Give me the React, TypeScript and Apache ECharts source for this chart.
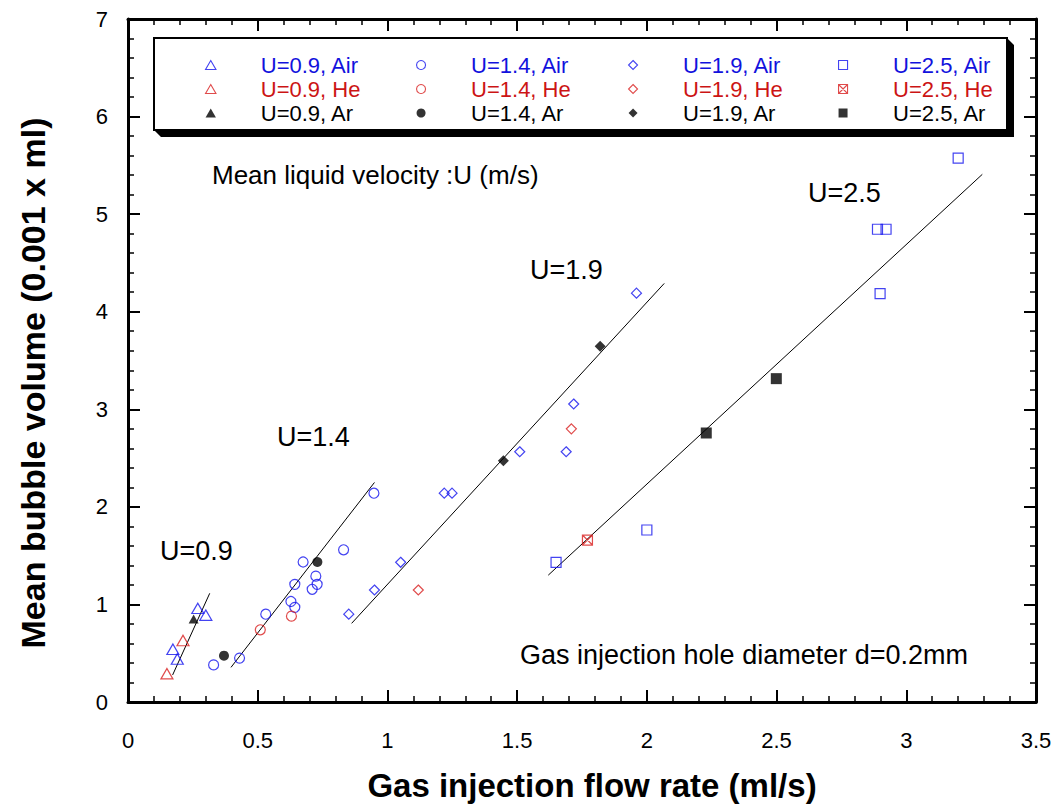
import React, { useEffect, useRef } from "react";
import * as echarts from "echarts";

// ---------- data ----------
const xTickValues = [0, 0.5, 1, 1.5, 2, 2.5, 3, 3.5];
const yTickValues = [0, 1, 2, 3, 4, 5, 6, 7];

const air09 = [[0.173, 0.54], [0.19, 0.44], [0.269, 0.96], [0.3, 0.89]];
const he09 = [[0.15, 0.29], [0.212, 0.63]];
const ar09 = [[0.253, 0.85]];

const air14 = [[0.33, 0.38], [0.43, 0.45], [0.531, 0.9], [0.628, 1.03], [0.643, 0.97], [0.643, 1.206], [0.675, 1.435], [0.71, 1.155], [0.724, 1.29], [0.729, 1.206], [0.831, 1.56], [0.948, 2.14]];
const he14 = [[0.51, 0.74], [0.63, 0.88]];
const ar14 = [[0.37, 0.475], [0.73, 1.435]];

const air19 = [[0.851, 0.9], [0.95, 1.148], [1.051, 1.432], [1.219, 2.14], [1.249, 2.14], [1.51, 2.565], [1.689, 2.565], [1.718, 3.054], [1.96, 4.19]];
const he19 = [[1.119, 1.148], [1.709, 2.8]];
const ar19 = [[1.447, 2.473], [1.82, 3.645]];

const air25 = [[1.65, 1.432], [2.0, 1.763], [2.899, 4.185], [2.889, 4.845], [2.922, 4.845], [3.2, 5.575]];
const he25 = [[1.771, 1.66]];
const ar25 = [[2.229, 2.757], [2.499, 3.314]];

const fit09 = [[0.172, 0.277], [0.315, 1.114]];
const fit14 = [[0.397, 0.355], [0.95, 2.25]];
const fit19 = [[0.862, 0.806], [2.067, 4.29]];
const fit25 = [[1.62, 1.3], [3.293, 5.408]];

const velocities = ["0.9", "1.4", "1.9", "2.5"];
const gases = ["Air", "He", "Ar"];

const xTitle = "Gas injection flow rate (ml/s)";
const yTitle = "Mean bubble volume (0.001 x ml)";
const noteVelocity = "Mean liquid velocity :U (m/s)";
const noteHole = "Gas injection hole diameter d=0.2mm";
const lineLabels = ["U=0.9", "U=1.4", "U=1.9", "U=2.5"];

// ---------- styles ----------
const BLUE = "#1414ee";
const RED = "#d81e1e";
const BLACK = "#000000";
const TEXT_BLUE = "#1212dd";
const TEXT_RED = "#cc1414";
const FONT = "'Liberation Sans', Arial, Helvetica, sans-serif";

const TRI = "path://M6,0L12,10.4L0,10.4Z";
const DIA = "path://M5,0L10,5L5,10L0,5Z";
const SQ = "path://M0,0L10,0L10,10L0,10Z";
const SQX = "path://M0,0L10,0L10,10L0,10ZM0,0L10,10M10,0L0,10";

function scatter(name: string, data: number[][], symbol: string, size: number[], color: string, filled: boolean) {
  return {
    type: "scatter",
    name,
    data,
    symbol,
    symbolSize: size,
    itemStyle: filled
      ? { color, borderColor: color, borderWidth: 0 }
      : { color: "rgba(0,0,0,0)", borderColor: color, borderWidth: 1.2 },
    emphasis: { disabled: true },
    z: 3,
  };
}

function fitLine(data: number[][]) {
  return {
    type: "line",
    data,
    symbol: "none",
    lineStyle: { color: BLACK, width: 1 },
    silent: true,
    z: 2,
  };
}

function legendItem(name: string, icon: string, color: string, filled: boolean, textColor: string) {
  return {
    name,
    icon,
    itemStyle: filled
      ? { color, borderColor: color, borderWidth: 0 }
      : { color: "rgba(0,0,0,0)", borderColor: color, borderWidth: 1.1 },
    textStyle: { color: textColor },
  };
}

const icons = [TRI, "circle", DIA, SQ];
const heIcons = [TRI, "circle", DIA, SQX];
const markerSizes = [[12, 10.4], [10, 10], [10, 10], [10, 10]];
const arSizes = [[10, 9], [10, 10], [11, 11], [11, 11]];

function nm(v: string, g: string) {
  return `U=${v}, ${g}`;
}

const series: any[] = [
  scatter(nm("0.9", "Air"), air09, TRI, markerSizes[0], BLUE, false),
  scatter(nm("0.9", "He"), he09, TRI, markerSizes[0], RED, false),
  scatter(nm("0.9", "Ar"), ar09, TRI, arSizes[0], BLACK, true),
  scatter(nm("1.4", "Air"), air14, "circle", markerSizes[1], BLUE, false),
  scatter(nm("1.4", "He"), he14, "circle", markerSizes[1], RED, false),
  scatter(nm("1.4", "Ar"), ar14, "circle", arSizes[1], BLACK, true),
  scatter(nm("1.9", "Air"), air19, DIA, markerSizes[2], BLUE, false),
  scatter(nm("1.9", "He"), he19, DIA, markerSizes[2], RED, false),
  scatter(nm("1.9", "Ar"), ar19, DIA, arSizes[2], BLACK, true),
  scatter(nm("2.5", "Air"), air25, SQ, markerSizes[3], BLUE, false),
  scatter(nm("2.5", "He"), he25, SQX, markerSizes[3], RED, false),
  scatter(nm("2.5", "Ar"), ar25, SQ, arSizes[3], BLACK, true),
  fitLine(fit09),
  fitLine(fit14),
  fitLine(fit19),
  fitLine(fit25),
];

const legendMarkerX = [210, 421, 633, 843];

const legends = velocities.map((v, i) => ({
  orient: "vertical",
  left: legendMarkerX[i] - 5,
  top: 54,
  itemWidth: 90,
  itemHeight: 9,
  itemGap: 2,
  padding: 0,
  selectedMode: false,
  z: 10,
  textStyle: { fontSize: 22, lineHeight: 21, fontFamily: FONT },
  data: [
    legendItem(nm(v, gases[0]), icons[i], BLUE, false, TEXT_BLUE),
    legendItem(nm(v, gases[1]), heIcons[i], RED, false, TEXT_RED),
    legendItem(nm(v, gases[2]), icons[i], BLACK, true, BLACK),
  ],
}));

const GRID = { left: 128, top: 19, width: 908, height: 683 };

const frameAxisCommon = {
  axisLine: { show: true, onZero: false, lineStyle: { color: BLACK, width: 3 } },
  axisTick: { show: true, inside: true, length: 12, lineStyle: { color: BLACK, width: 2 } },
  minorTick: { show: true, splitNumber: 5, length: 6, lineStyle: { color: BLACK, width: 1.5 } },
  splitLine: { show: false },
};

const labelPos = [
  [160, 551],
  [277, 437],
  [530, 270],
  [808, 193],
];

function note(text: string, x: number, y: number, size: number) {
  return {
    type: "text",
    z: 6,
    x,
    y,
    style: { text, fontSize: size, fontFamily: FONT, fill: BLACK, verticalAlign: "middle", align: "left" },
  };
}

const option: any = {
  animation: false,
  backgroundColor: "#ffffff",
  grid: { ...GRID, containLabel: false },
  xAxis: [
    {
      type: "value",
      min: xTickValues[0],
      max: xTickValues[xTickValues.length - 1],
      interval: 0.5,
      position: "bottom",
      ...frameAxisCommon,
      axisLabel: { show: true, margin: 27, fontSize: 22, fontFamily: FONT, color: BLACK },
    },
    {
      type: "value",
      min: xTickValues[0],
      max: xTickValues[xTickValues.length - 1],
      interval: 0.5,
      position: "top",
      ...frameAxisCommon,
      axisLabel: { show: false },
    },
  ],
  yAxis: [
    {
      type: "value",
      min: yTickValues[0],
      max: yTickValues[yTickValues.length - 1],
      interval: 1,
      position: "left",
      ...frameAxisCommon,
      axisLabel: { show: true, margin: 20, fontSize: 22, fontFamily: FONT, color: BLACK },
    },
    {
      type: "value",
      min: yTickValues[0],
      max: yTickValues[yTickValues.length - 1],
      interval: 1,
      position: "right",
      ...frameAxisCommon,
      axisLabel: { show: false },
    },
  ],
  legend: legends,
  graphic: [
    {
      type: "polygon",
      z: 5,
      shape: { points: [[1007, 38], [1014, 45], [1014, 137], [161, 137], [154, 130], [1007, 130]] },
      style: { fill: BLACK },
    },
    {
      type: "rect",
      z: 6,
      shape: { x: 154, y: 38, width: 853, height: 92 },
      style: { fill: "#ffffff", stroke: BLACK, lineWidth: 2 },
    },
    note(noteVelocity, 212, 175, 26),
    note(noteHole, 520, 655, 27),
    ...lineLabels.map((t, i) => note(t, labelPos[i][0], labelPos[i][1], 27)),
    {
      type: "text",
      z: 6,
      x: 592,
      y: 785,
      style: { text: xTitle, fontSize: 33, fontWeight: "bold", fontFamily: FONT, fill: BLACK, verticalAlign: "middle", align: "center" },
    },
    {
      type: "text",
      z: 6,
      x: 33,
      y: 383,
      rotation: Math.PI / 2,
      style: { text: yTitle, fontSize: 34, fontWeight: "bold", fontFamily: FONT, fill: BLACK, verticalAlign: "middle", align: "center" },
    },
  ],
  series,
};

export default function App() {
  const ref = useRef<HTMLDivElement>(null);
  useEffect(() => {
    const chart = echarts.init(ref.current as HTMLDivElement, null, { renderer: "svg" });
    chart.setOption(option);
    return () => chart.dispose();
  }, []);
  return (
    <div
      ref={ref}
      style={{ position: "absolute", left: 0, top: 0, width: 1062, height: 804, background: "#ffffff" }}
    />
  );
}
